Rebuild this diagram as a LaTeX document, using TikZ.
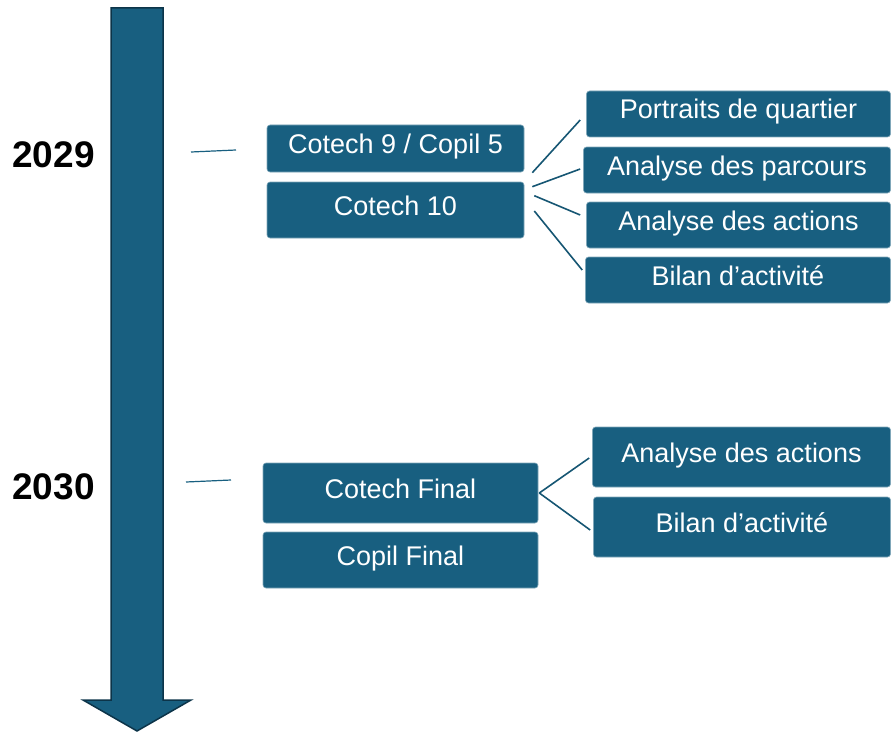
\documentclass[tikz,border=0pt]{standalone}
\usepackage{fontspec}
\setmainfont{Liberation Sans}
\definecolor{planblue}{RGB}{24,95,128}
\definecolor{planedge}{RGB}{12,52,73}

\begin{document}
\begin{tikzpicture}[x=1pt,y=-1pt,
    etape/.style={fill=planblue, draw=planblue!55!white, line width=0.6pt, rounded corners=3pt,
      text=white, inner sep=0pt, font=\fontsize{27}{32}\selectfont, text height=20pt, text depth=10pt},
    annee/.style={font=\bfseries\fontsize{37}{44}\selectfont, anchor=base},
    lien/.style={draw=planblue!90!black, line width=1.6pt},
    repere/.style={draw=planblue, line width=1.2pt}]
        \useasboundingbox (0,0) rectangle (891,733);
        % fleche du temps
        \draw[fill=planblue, draw=planedge, line width=1.5pt] (111,8) -- (163,8) -- (163,700) -- (191,700)
          -- (137,731) -- (83,700) -- (111,700) -- cycle;

        % annees et reperes
        \node[annee] (a2029) at (53.5,167) {2029};
        \node[annee] (a2030) at (53.5,499) {2030};
        \coordinate (t29a) at (191,152);
        \coordinate (t29b) at (236,150);
        \coordinate (t30a) at (186,482);
        \coordinate (t30b) at (231,480);
        \draw[repere] (t29a) -- (t29b);
        \draw[repere] (t30a) -- (t30b);

        % 2029
        \node[etape, minimum width=257pt, minimum height=47pt] (c95) at (395.5,148.5) {Cotech 9 / Copil 5};
        \node[etape, minimum width=257pt, minimum height=56pt] (c10) at (395.5,210) {Cotech 10};
        \node[etape, minimum width=304pt, minimum height=46pt] (portraits) at (738.5,114) {Portraits de quartier};
        \node[etape, minimum width=307pt, minimum height=46pt] (parcours) at (737,170) {Analyse des parcours};
        \node[etape, minimum width=304pt, minimum height=46pt] (actions) at (738.5,225) {Analyse des actions};
        \node[etape, minimum width=305pt, minimum height=46pt] (bilan) at (738,280) {Bilan d’activité};

        \draw[lien] ([xshift=8pt,yshift=9pt]c10.north east) -- ([xshift=-6pt,yshift=-6pt]portraits.west);
        \draw[lien] ([xshift=8pt,yshift=-5pt]c10.north east) -- ([xshift=-3pt,yshift=1pt]parcours.west);
        \draw[lien] ([xshift=10pt,yshift=-14pt]c10.north east) -- ([xshift=-6pt,yshift=10pt]actions.west);
        \draw[lien] ([xshift=10pt,yshift=-1pt]c10.east) -- ([xshift=-3pt,yshift=10pt]bilan.west);

        % 2030
        \node[etape, minimum width=275pt, minimum height=60pt] (cfinal) at (400.5,493) {Cotech Final};
        \node[etape, minimum width=275pt, minimum height=56pt] (pfinal) at (400.5,560) {Copil Final};
        \node[etape, minimum width=298pt, minimum height=60pt] (actions2) at (741.5,457) {Analyse des actions};
        \node[etape, minimum width=297pt, minimum height=60pt] (bilan2) at (742,527) {Bilan d’activité};

        \draw[lien] ([xshift=1pt]cfinal.east) -- ([xshift=-3pt,yshift=-1pt]actions2.west);
        \draw[lien] ([xshift=1pt]cfinal.east) -- ([xshift=-3pt,yshift=-3pt]bilan2.west);
      \end{tikzpicture}
\end{document}
